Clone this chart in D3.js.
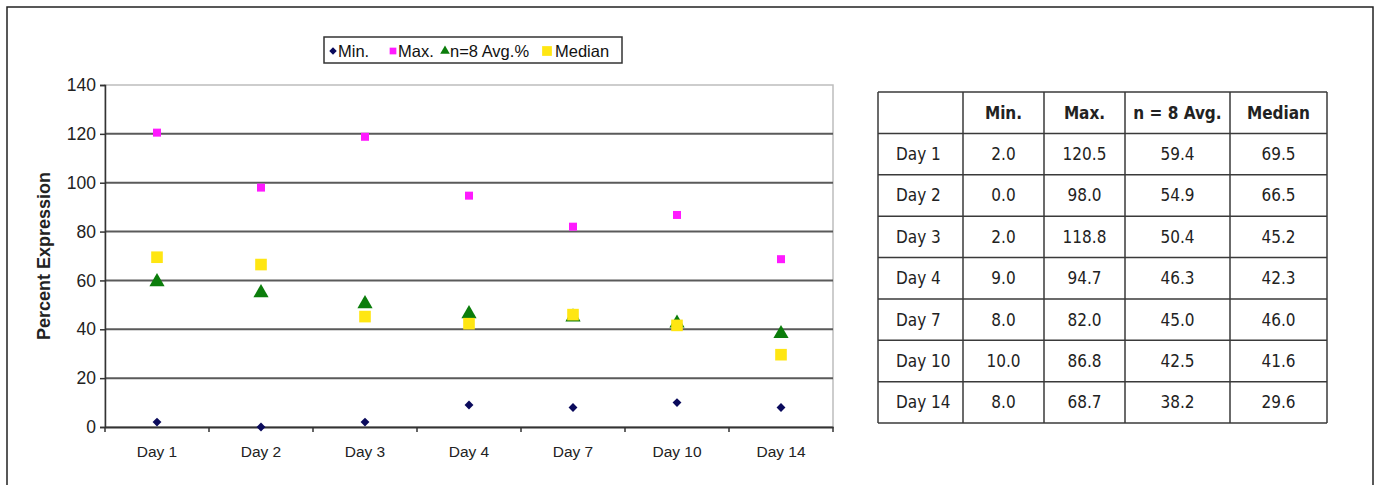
<!DOCTYPE html>
<html>
<head>
<meta charset="utf-8">
<script src="https://cdn.jsdelivr.net/npm/d3@7"></script>
<style>
  html, body { margin: 0; padding: 0; background: #fff; }
  svg { display: block; }
</style>
</head>
<body>
<div id="main"></div>
<script>
// chart data
const days = ["Day 1", "Day 2", "Day 3", "Day 4", "Day 7", "Day 10", "Day 14"];
const minVals = [2.0, 0.0, 2.0, 9.0, 8.0, 10.0, 8.0];
const maxVals = [120.5, 98.0, 118.8, 94.7, 82.0, 86.8, 68.7];
const avgVals = [59.4, 54.9, 50.4, 46.3, 45.0, 42.5, 38.2];
const medianVals = [69.5, 66.5, 45.2, 42.3, 46.0, 41.6, 29.6];
const yTicks = [0, 20, 40, 60, 80, 100, 120, 140];
const tableHeaders = ["", "Min.", "Max.", "n = 8 Avg.", "Median"];
const legendLabels = ["Min.", "Max.", "n=8 Avg.%", "Median"];

const ctx = {
    width: 1375,
    height: 485,
    plot: {left: 105, right: 833, top: 85, bottom: 427},
    chartFont: "'Liberation Sans', Arial, sans-serif",
    tableFont: "'Liberation Sans Narrow', 'DejaVu Sans Condensed', Arial, sans-serif"
};

const diamond = d3.symbolDiamond2 || d3.symbolDiamond;

const series = [
    {name: legendLabels[0], values: minVals, shape: diamond, size: 50, color: "#0a0a5c"},
    {name: legendLabels[1], values: maxVals, shape: d3.symbolSquare, size: 64, color: "#ff1aff"},
    {name: legendLabels[2], values: avgVals, shape: d3.symbolTriangle, size: 100, color: "#0b7d0b"},
    {name: legendLabels[3], values: medianVals, shape: d3.symbolSquare, size: 135, color: "#ffe612"}
];

const svg = d3.select("#main").append("svg")
    .attr("width", ctx.width)
    .attr("height", ctx.height);

// outer frame
svg.append("rect")
    .attr("x", 7).attr("y", 7)
    .attr("width", 1366).attr("height", 490)
    .attr("fill", "none")
    .attr("stroke", "#222")
    .attr("stroke-width", 1.5);

const x = d3.scaleBand().domain(days).range([ctx.plot.left, ctx.plot.right]);
const y = d3.scaleLinear().domain([0, 140]).range([ctx.plot.bottom, ctx.plot.top]);

const chart = svg.append("g");

// plot area border (light gray)
chart.append("rect")
    .attr("x", ctx.plot.left).attr("y", y(140))
    .attr("width", ctx.plot.right - ctx.plot.left)
    .attr("height", y(0) - y(140))
    .attr("fill", "none")
    .attr("stroke", "#bdbdbd")
    .attr("stroke-width", 1.5);

// gridlines
chart.selectAll(".grid")
    .data(yTicks.filter(t => t > 0 && t < 140))
    .enter().append("line")
    .attr("class", "grid")
    .attr("x1", ctx.plot.left).attr("x2", ctx.plot.right)
    .attr("y1", d => y(d)).attr("y2", d => y(d))
    .attr("stroke", "#5a5a5a")
    .attr("stroke-width", 2);

// y axis
const yAxis = chart.append("g")
    .attr("transform", `translate(${ctx.plot.left},0)`)
    .call(d3.axisLeft(y).tickValues(yTicks).tickSize(5).tickPadding(4));
yAxis.select(".domain").attr("stroke", "#333").attr("stroke-width", 1.5);
yAxis.selectAll(".tick line").attr("stroke", "#333").attr("stroke-width", 1.5);
yAxis.selectAll("text")
    .attr("font-family", ctx.chartFont)
    .attr("font-size", 17.5)
    .attr("fill", "#222");

// x axis, ticks at category boundaries
const xAxis = chart.append("g")
    .attr("transform", `translate(0,${ctx.plot.bottom})`)
    .call(d3.axisBottom(x).tickSize(0).tickPadding(19));
xAxis.select(".domain").attr("stroke", "#333").attr("stroke-width", 2);
xAxis.selectAll("text")
    .attr("font-family", ctx.chartFont)
    .attr("font-size", 15.5)
    .attr("fill", "#222");
chart.selectAll(".xtick")
    .data(days.concat([null]))
    .enter().append("line")
    .attr("class", "xtick")
    .attr("x1", (d, i) => i < days.length ? x(d) : x(days[days.length - 1]) + x.bandwidth())
    .attr("x2", (d, i) => i < days.length ? x(d) : x(days[days.length - 1]) + x.bandwidth())
    .attr("y1", ctx.plot.bottom)
    .attr("y2", ctx.plot.bottom + 5)
    .attr("stroke", "#333")
    .attr("stroke-width", 1.5);

// y title
chart.append("text")
    .attr("transform", `translate(50,${(ctx.plot.top + ctx.plot.bottom) / 2}) rotate(-90)`)
    .attr("text-anchor", "middle")
    .attr("font-family", ctx.chartFont)
    .attr("font-size", 18)
    .attr("font-weight", "bold")
    .attr("fill", "#222")
    .text("Percent Expression");

// markers
series.forEach(s => {
    chart.selectAll(null)
        .data(s.values)
        .enter().append("path")
        .attr("d", d3.symbol().type(s.shape).size(s.size))
        .attr("transform", (d, i) => `translate(${x(days[i]) + x.bandwidth() / 2},${y(d)})`)
        .attr("fill", s.color);
});

// legend
const legend = svg.append("g");
legend.append("rect")
    .attr("x", 324).attr("y", 37)
    .attr("width", 298).attr("height", 26)
    .attr("fill", "#fff")
    .attr("stroke", "#333")
    .attr("stroke-width", 1.5);
const legendX = [333, 393, 445, 547];
const legendSizes = [36, 45, 40, 95];
series.forEach((s, i) => {
    legend.append("path")
        .attr("d", d3.symbol().type(s.shape).size(legendSizes[i]))
        .attr("transform", `translate(${legendX[i]},51)`)
        .attr("fill", s.color);
    legend.append("text")
        .attr("x", legendX[i] + (i === 3 ? 8 : 5))
        .attr("y", 57)
        .attr("font-family", ctx.chartFont)
        .attr("font-size", 16.5)
        .attr("fill", "#111")
        .text(s.name);
});

// table
const colEdges = [878, 963, 1044, 1125, 1230, 1327];
const rowNames = ["header"].concat(days);
const ty = d3.scaleBand().domain(rowNames).range([92, 423]);
const table = svg.append("g");

table.selectAll(".hline")
    .data(rowNames.concat([null]))
    .enter().append("line")
    .attr("x1", colEdges[0]).attr("x2", colEdges[colEdges.length - 1])
    .attr("y1", (d, i) => i < rowNames.length ? ty(d) : ty.range()[1])
    .attr("y2", (d, i) => i < rowNames.length ? ty(d) : ty.range()[1])
    .attr("stroke", "#3a3a3a")
    .attr("stroke-width", 1.5);
table.selectAll(".vline")
    .data(colEdges)
    .enter().append("line")
    .attr("x1", d => d).attr("x2", d => d)
    .attr("y1", ty.range()[0]).attr("y2", ty.range()[1])
    .attr("stroke", "#3a3a3a")
    .attr("stroke-width", 1.5);

const colCenter = i => (colEdges[i] + colEdges[i + 1]) / 2;
const textY = r => ty(r) + ty.bandwidth() / 2 + 6;

tableHeaders.forEach((h, i) => {
    table.append("text")
        .attr("x", colCenter(i))
        .attr("y", textY("header"))
        .attr("text-anchor", "middle")
        .attr("font-family", ctx.tableFont)
        .attr("font-size", 17)
        .attr("font-weight", "bold")
        .attr("fill", "#222")
        .text(h);
});

const tableCols = [minVals, maxVals, avgVals, medianVals];
days.forEach((dname, r) => {
    table.append("text")
        .attr("x", colEdges[0] + 18)
        .attr("y", textY(dname))
        .attr("font-family", ctx.tableFont)
        .attr("font-size", 17)
        .attr("fill", "#222")
        .text(dname);
    tableCols.forEach((vals, c) => {
        table.append("text")
            .attr("x", colCenter(c + 1))
            .attr("y", textY(dname))
            .attr("text-anchor", "middle")
            .attr("font-family", ctx.tableFont)
            .attr("font-size", 17)
            .attr("fill", "#222")
            .text(vals[r].toFixed(1));
    });
});
</script>
</body>
</html>
